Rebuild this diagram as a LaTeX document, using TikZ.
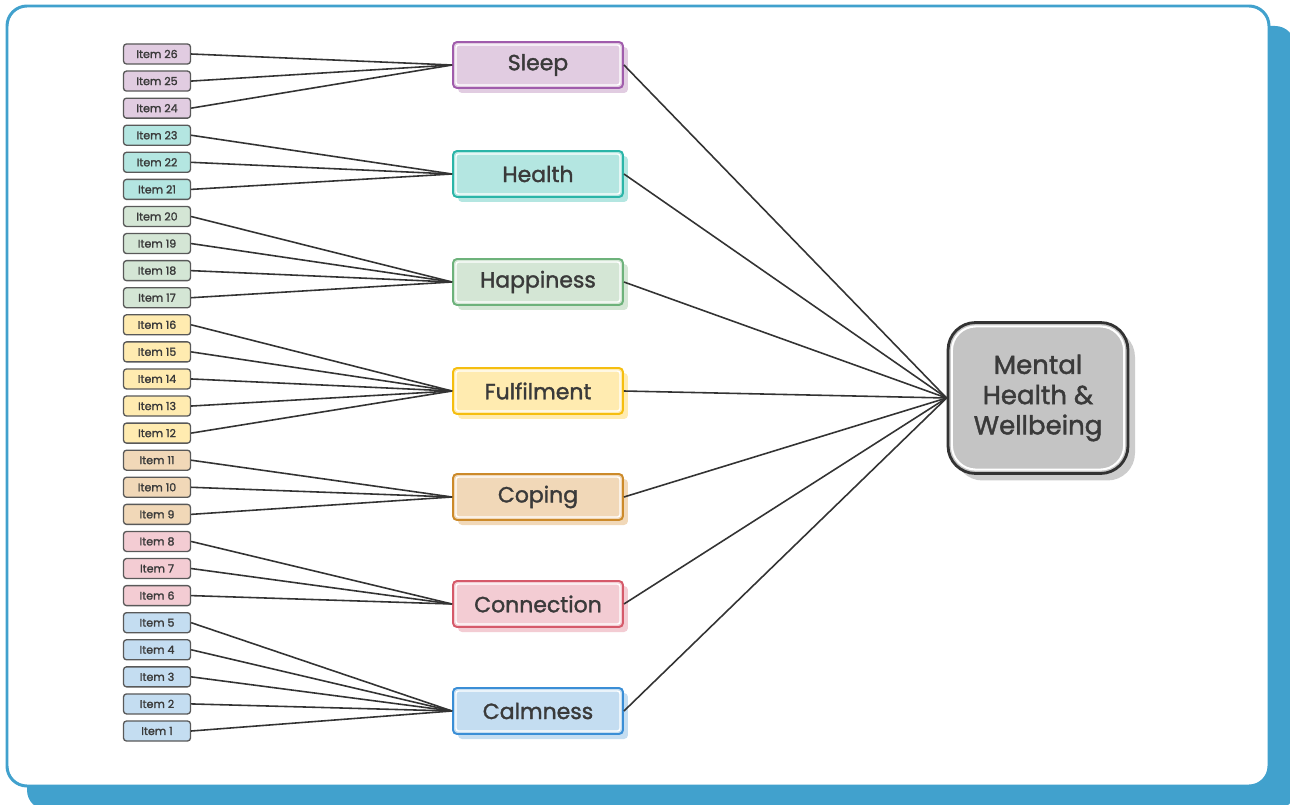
\documentclass[tikz,border=0pt]{standalone}
\usepackage{fontspec}
\setmainfont{Poppins}[FakeBold=1.5]
\usepackage{xcolor}
\usetikzlibrary{positioning, shadows}

\definecolor{frameblue}{HTML}{41A1CD}
\definecolor{inkgray}{HTML}{3A3A3A}
\definecolor{wiregray}{HTML}{333333}
\definecolor{sleepfill}{HTML}{E1CCE1}\definecolor{sleepline}{HTML}{A05CAC}
\definecolor{healthfill}{HTML}{B4E6E1}\definecolor{healthline}{HTML}{2BB5A8}
\definecolor{happyfill}{HTML}{D4E6D5}\definecolor{happyline}{HTML}{6DB27B}
\definecolor{fulfilfill}{HTML}{FFEBB0}\definecolor{fulfilline}{HTML}{F5BE10}
\definecolor{copefill}{HTML}{F1D8B8}\definecolor{copeline}{HTML}{CC8A2A}
\definecolor{connectfill}{HTML}{F3CCD3}\definecolor{connectline}{HTML}{D55A6A}
\definecolor{calmfill}{HTML}{C4DDF1}\definecolor{calmline}{HTML}{3A8ED6}

\begin{document}
\begin{tikzpicture}[
    x=0.02cm, y=-0.02cm,
    item/.style={
        rectangle,
        draw=black!65,
        line width=0.75pt,
        rounded corners=0.06cm,
        fill=#1fill,
        minimum width=1.34cm,
        minimum height=0.4cm,
        inner sep=0pt,
        text=inkgray,
        font=\fontsize{6.3}{7}\selectfont
    },
    category/.style={
        rectangle,
        draw=#1line,
        line width=1.1pt,
        rounded corners=0.08cm,
        fill=#1fill,
        minimum width=3.4cm,
        minimum height=0.92cm,
        inner sep=0pt,
        text=inkgray,
        font=\fontsize{12.5}{14}\selectfont,
        drop shadow={shadow xshift=0.1cm, shadow yshift=-0.1cm, fill=#1fill, opacity=1},
        path picture={\draw[white, line width=0.8pt, rounded corners=0.05cm]
            ([shift={(1.7pt,-1.7pt)}]path picture bounding box.north west) rectangle
            ([shift={(-1.7pt,1.7pt)}]path picture bounding box.south east);}
    },
    wellbeing/.style={
        rectangle,
        draw=wiregray,
        line width=1.6pt,
        rounded corners=0.55cm,
        fill=black!23,
        minimum width=3.6cm,
        minimum height=3.02cm,
        align=center,
        text=inkgray,
        font=\fontsize{14.8}{17.2}\selectfont,
        drop shadow={shadow xshift=0.14cm, shadow yshift=-0.14cm, fill=black!20, opacity=1},
        path picture={\draw[white, line width=1.2pt, rounded corners=0.48cm]
            ([shift={(2.2pt,-2.2pt)}]path picture bounding box.north west) rectangle
            ([shift={(-2.2pt,2.2pt)}]path picture bounding box.south east);}
    },
    link/.style={wiregray, line width=0.9pt}
]

\useasboundingbox (0,0) rectangle (1290,804);

% frame
\fill[frameblue, rounded corners=0.4cm] (27,26) rectangle (1295,810);
\draw[frameblue, line width=1.7pt, fill=white, rounded corners=0.4cm] (7,6) rectangle (1269,786);

% target
\node[wellbeing] (mhw) at (1038,398) {Mental\\Health \&\\Wellbeing};

% categories
\node[category=sleep]   (sleep)   at (538,65)  {Sleep};
\node[category=health]  (health)  at (538,174) {Health};
\node[category=happy]   (happy)   at (538,282) {Happiness};
\node[category=fulfil]  (fulfil)  at (538,391) {Fulfilment};
\node[category=cope]    (cope)    at (538,497) {Coping};
\node[category=connect] (connect) at (538,604) {Connection};
\node[category=calm]    (calm)    at (538,711) {Calmness};

% items
\foreach \cat/\lo/\hi in {calm/1/5, connect/6/8, cope/9/11, fulfil/12/16,
                          happy/17/20, health/21/23, sleep/24/26}{
    \foreach \n in {\lo,...,\hi}{
        \node[item=\cat] (item\n) at (157,{54+(26-\n)*27.08}) {Item \n};
        \draw[link] (item\n.east) -- (\cat.west);
    }
    \draw[link] (\cat.east) -- (mhw.west);
}

\end{tikzpicture}
\end{document}
